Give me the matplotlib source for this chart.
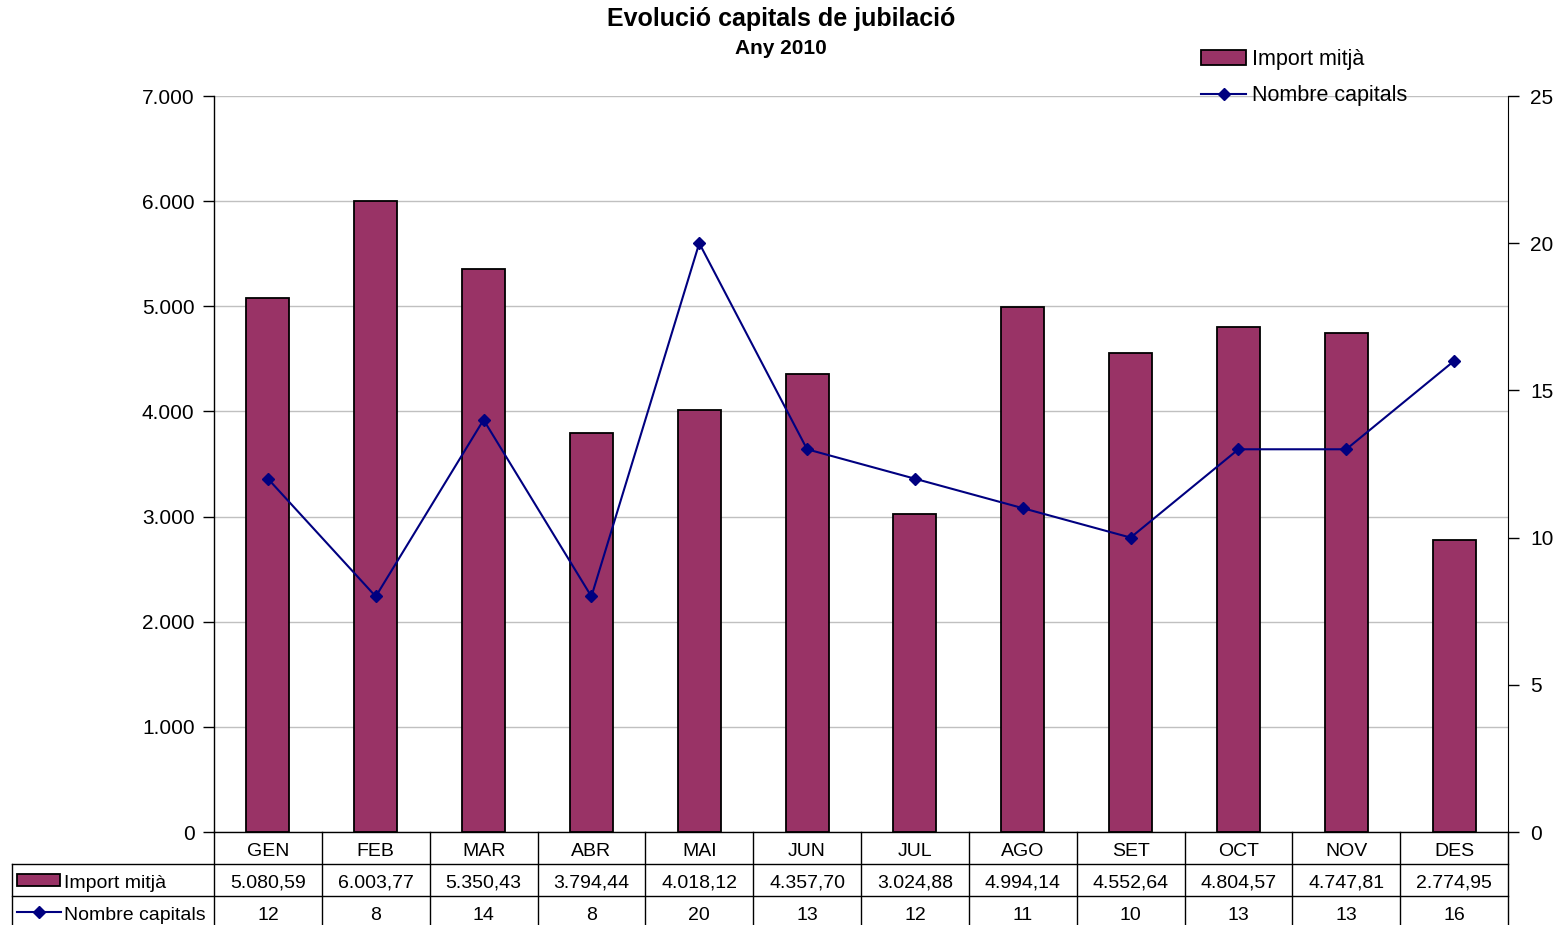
import numpy as np
import matplotlib
matplotlib.use("Agg")
import matplotlib.pyplot as plt
from matplotlib.ticker import FuncFormatter
from matplotlib.transforms import blended_transform_factory
from matplotlib.patches import Rectangle
from matplotlib.lines import Line2D

plt.rcParams['font.family'] = ['Liberation Sans', 'DejaVu Sans']

months = ["GEN", "FEB", "MAR", "ABR", "MAI", "JUN", "JUL", "AGO", "SET", "OCT", "NOV", "DES"]
import_mitja = [5080.59, 6003.77, 5350.43, 3794.44, 4018.12, 4357.70, 3024.88, 4994.14, 4552.64, 4804.57, 4747.81, 2774.95]
nombre = [12, 8, 14, 8, 20, 13, 12, 11, 10, 13, 13, 16]
label_import = "Import mitjà"
label_nombre = "Nombre capitals"

BAR_COLOR = "#993366"
LINE_COLOR = "#000080"

W, H = 1553, 925
fig = plt.figure(figsize=(W / 100, H / 100), dpi=100)
ax = fig.add_axes([214 / W, 1 - 832 / H, (1508 - 214) / W, (832 - 96) / H])

x = np.arange(len(months))
bars = ax.bar(x, import_mitja, width=0.4, color=BAR_COLOR, edgecolor="black",
              linewidth=1.3, zorder=3, label=label_import)
ax.set_xlim(-0.5, len(months) - 0.5)
ax.set_ylim(0, 7000)
ax.set_yticks(range(0, 7001, 1000))
ax.yaxis.set_major_formatter(FuncFormatter(lambda v, p: f"{int(v):,}".replace(",", ".")))
ax.grid(axis="y", color="#c0c0c0", linewidth=1, zorder=0)
ax.set_axisbelow(True)
ax.set_xticks([])
ax.spines["top"].set_visible(False)
ax.spines["right"].set_visible(False)
for s in ("left", "bottom"):
    ax.spines[s].set_linewidth(1)
    ax.spines[s].set_color("black")
ax.tick_params(axis="y", direction="out", length=8, width=1, labelsize=15, pad=6)

ax2 = ax.twinx()
line, = ax2.plot(x, nombre, color=LINE_COLOR, marker="D", markersize=6.5,
                 linewidth=1.5, zorder=4, label=label_nombre)
ax2.set_ylim(0, 25)
ax2.set_yticks(range(0, 26, 5))
ax2.spines["top"].set_visible(False)
ax2.spines["left"].set_visible(False)
ax2.spines["bottom"].set_visible(False)
ax2.spines["right"].set_color("black")
ax2.tick_params(axis="y", direction="out", length=8, width=1, labelsize=15, pad=8)

# Titles
fig.text(0.503, 1 - 19 / H, "Evolució capitals de jubilació", ha="center", va="center",
         fontsize=18, fontweight="bold")
fig.text(0.503, 1 - 48 / H, "Any 2010", ha="center", va="center",
         fontsize=15, fontweight="bold")

# Legend
fig.legend(handles=[bars, line], labels=[label_import, label_nombre], loc="upper left",
           bbox_to_anchor=(1201 / W, 1 - 49 / H), frameon=False, fontsize=15.5,
           handlelength=2.1, handletextpad=0.25, labelspacing=0.72, borderpad=0,
           borderaxespad=0)

# Data table
h = 32 / 736
tr = blended_transform_factory(ax.transData, ax.transAxes)
ta = ax.transAxes
lc = "black"
lw = 1
n = len(months)
for i in range(n + 1):
    ax.add_line(Line2D([i - 0.5, i - 0.5], [0, -3 * h], transform=tr, color=lc,
                       lw=lw, clip_on=False))
left_frac = (12 - 214) / 1294
for k in (1, 2, 3):
    ax.add_line(Line2D([left_frac, 1], [-k * h, -k * h], transform=ta, color=lc,
                       lw=lw, clip_on=False))
ax.add_line(Line2D([left_frac, left_frac], [-h, -3 * h], transform=ta, color=lc,
                   lw=lw, clip_on=False))

def fmt_cat(v):
    s = f"{v:,.2f}"
    return s.replace(",", "X").replace(".", ",").replace("X", ".")

dy = 3 / 736
for i in range(n):
    ax.text(i, -0.5 * h - dy, months[i], transform=tr, ha="center", va="center", fontsize=14, clip_on=False)
    ax.text(i, -1.5 * h - dy, fmt_cat(import_mitja[i]), transform=tr, ha="center", va="center", fontsize=14, clip_on=False)
    ax.text(i, -2.5 * h - dy, str(nombre[i]), transform=tr, ha="center", va="center", fontsize=14, clip_on=False)

# Row legend keys
x0 = (17 - 214) / 1294
x1 = (60 - 214) / 1294
rh = 12 / 736
ax.add_patch(Rectangle((x0, -1.5 * h - rh / 2), x1 - x0, rh, transform=ta,
                       facecolor=BAR_COLOR, edgecolor="black", lw=1.3, clip_on=False))
ax.add_line(Line2D([x0, (61 - 214) / 1294], [-2.5 * h, -2.5 * h], transform=ta,
                   color=LINE_COLOR, lw=1.5, clip_on=False))
ax.add_line(Line2D([(39 - 214) / 1294], [-2.5 * h], transform=ta, color=LINE_COLOR,
                   marker="D", markersize=6.5, clip_on=False))
tx = (64 - 214) / 1294
ax.text(tx, -1.5 * h - dy, label_import, transform=ta, ha="left", va="center", fontsize=14, clip_on=False)
ax.text(tx, -2.5 * h - dy, label_nombre, transform=ta, ha="left", va="center", fontsize=14, clip_on=False)

fig.savefig("out.png", dpi=100)
